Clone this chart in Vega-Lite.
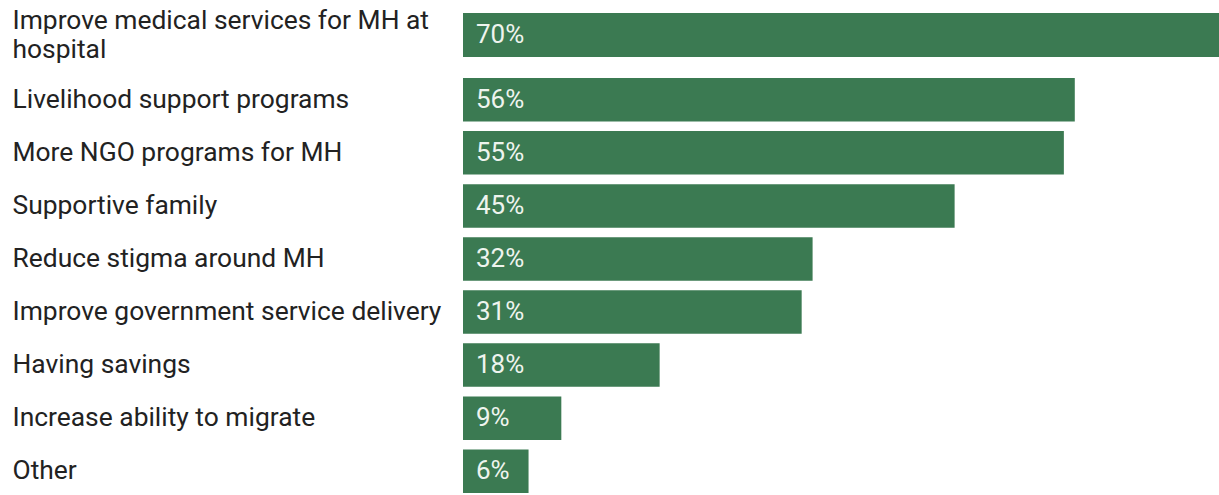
{
  "$schema": "https://vega.github.io/schema/vega-lite/v6.json",
  "padding": {"left": 12, "top": 7, "right": 0, "bottom": 0},
  "autosize": {"type": "pad"},
  "background": "white",
  "spacing": 21,
  "bounds": "flush",
  "config": {
    "view": {"stroke": null},
    "font": "Roboto",
    "axisY": {
      "title": null,
      "domain": false,
      "ticks": false,
      "labelAlign": "left",
      "labelPadding": 451,
      "labelFontSize": 26.4,
      "labelColor": "#222222",
      "labelFont": "Roboto",
      "labelLimit": 445,
      "labelLineHeight": 29
    }
  },
  "datasets": {
    "rows": [
      {"item": "Improve medical services for MH at hospital", "pct": 0.70, "group": "top"},
      {"item": "Livelihood support programs", "pct": 0.56, "group": "rest"},
      {"item": "More NGO programs for MH", "pct": 0.55, "group": "rest"},
      {"item": "Supportive family", "pct": 0.45, "group": "rest"},
      {"item": "Reduce stigma around MH", "pct": 0.32, "group": "rest"},
      {"item": "Improve government service delivery", "pct": 0.31, "group": "rest"},
      {"item": "Having savings", "pct": 0.18, "group": "rest"},
      {"item": "Increase ability to migrate", "pct": 0.09, "group": "rest"},
      {"item": "Other", "pct": 0.06, "group": "rest"}
    ]
  },
  "vconcat": [
    {
      "width": 756,
      "height": 44,
      "data": {"name": "rows"},
      "transform": [{"filter": "datum.group == 'top'"}],
      "encoding": {
        "y": {
          "field": "item",
          "type": "nominal",
          "sort": null,
          "scale": {"paddingInner": 0, "paddingOuter": 0},
          "axis": {
            "labelOffset": -14.5,
            "labelExpr": "datum.label == 'Improve medical services for MH at hospital' ? ['Improve medical services for MH at', 'hospital'] : datum.label"
          }
        }
      },
      "layer": [
        {
          "mark": {"type": "bar", "color": "#3b7a52", "clip": true},
          "encoding": {
            "x": {
              "field": "pct",
              "type": "quantitative",
              "scale": {"domain": [0, 0.692], "nice": false},
              "axis": null
            }
          }
        },
        {
          "mark": {"type": "text", "align": "left", "dx": 13, "fontSize": 26, "font": "Roboto", "color": "#eef4ee", "baseline": "middle"},
          "encoding": {
            "x": {"datum": 0, "type": "quantitative"},
            "text": {"field": "pct", "type": "quantitative", "format": ".0%"}
          }
        }
      ]
    },
    {
      "width": 756,
      "height": 415,
      "data": {"name": "rows"},
      "transform": [{"filter": "datum.group == 'rest'"}],
      "encoding": {
        "y": {
          "field": "item",
          "type": "nominal",
          "sort": null,
          "scale": {"paddingInner": 0.18, "paddingOuter": 0}
        }
      },
      "layer": [
        {
          "mark": {"type": "bar", "color": "#3b7a52", "clip": true},
          "encoding": {
            "x": {
              "field": "pct",
              "type": "quantitative",
              "scale": {"domain": [0, 0.692], "nice": false},
              "axis": null
            }
          }
        },
        {
          "mark": {"type": "text", "align": "left", "dx": 13, "fontSize": 26, "font": "Roboto", "color": "#eef4ee", "baseline": "middle"},
          "encoding": {
            "x": {"datum": 0, "type": "quantitative"},
            "text": {"field": "pct", "type": "quantitative", "format": ".0%"}
          }
        }
      ]
    }
  ]
}
